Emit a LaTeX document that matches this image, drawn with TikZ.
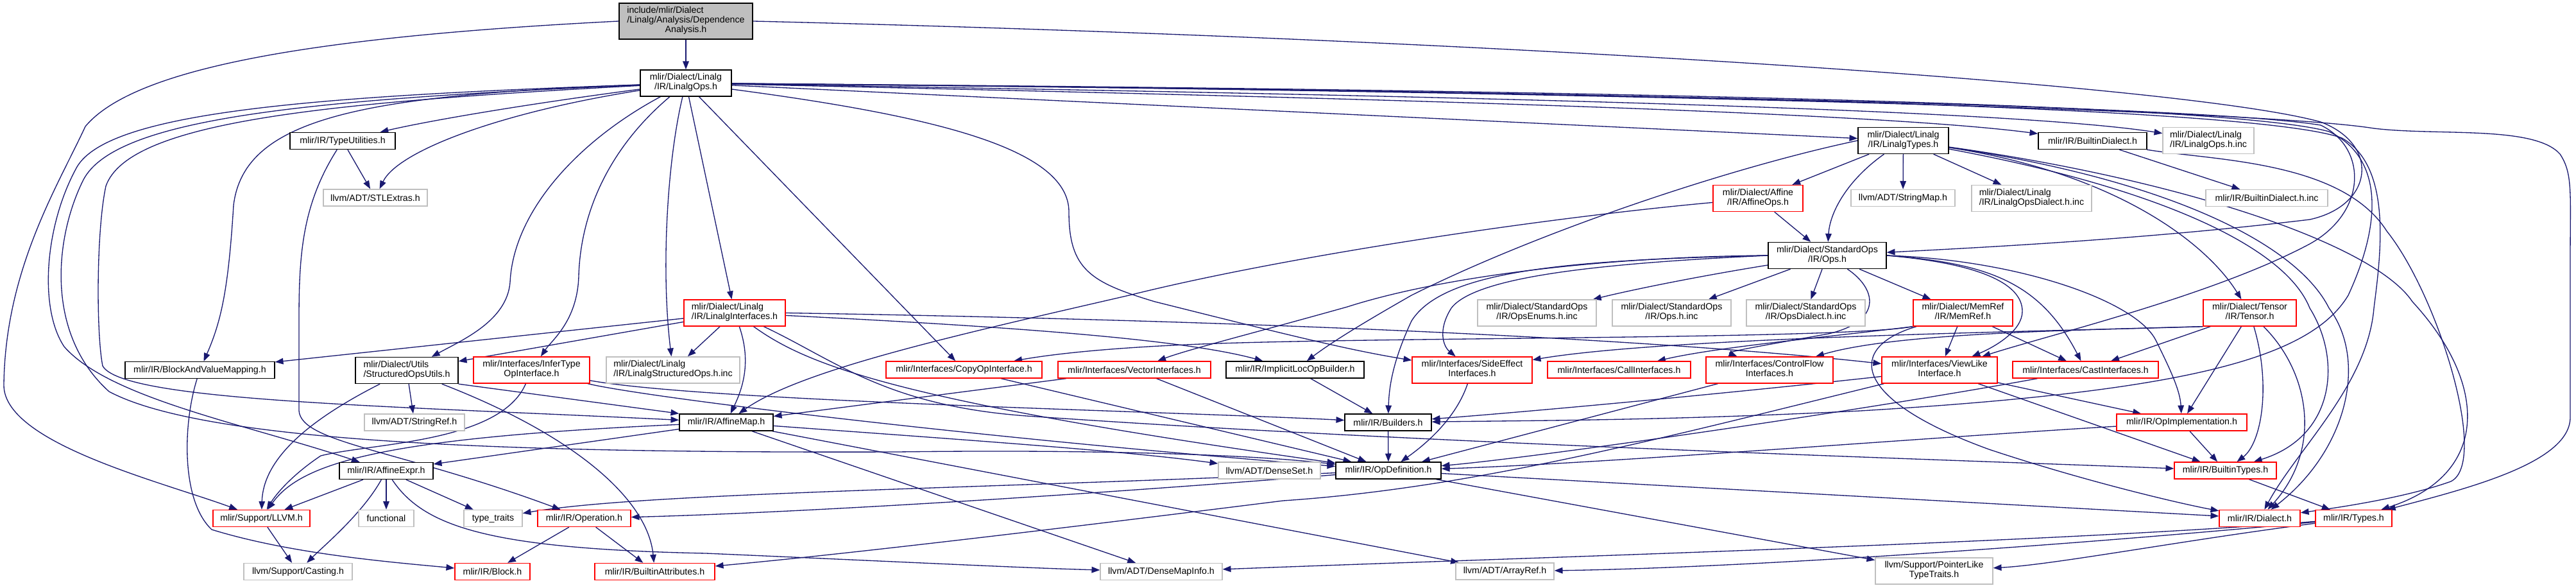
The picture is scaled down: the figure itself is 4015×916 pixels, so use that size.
\documentclass[tikz,border=0pt]{standalone}
\usepackage{fontspec}
\setmainfont{Liberation Sans}
\usetikzlibrary{arrows.meta}
\definecolor{edgec}{HTML}{191970}
\definecolor{dred}{HTML}{FF0000}
\definecolor{dgray}{HTML}{BFBFBF}
\definecolor{topgray}{HTML}{BFBFBF}
\pgfdeclarelayer{edgelayer}
\pgfsetlayers{edgelayer,main}
\newcommand\twoln[2]{\begin{tabular}{@{}l@{}}#1\\\multicolumn{1}{@{}c@{}}{#2}\end{tabular}}
\newcommand\threeln[3]{\begin{tabular}{@{}l@{}}#1\\#2\\\multicolumn{1}{@{}c@{}}{#3}\end{tabular}}
\newcommand\mknode[7]{\node[#6,minimum width=#4*0.25pt,minimum height=#5*0.25pt] (#1) at (#2,#3) {#7};}
\tikzset{
  box/.style={draw, fill=white, line width=0.35pt, inner sep=0pt, text=black,
    font=\fontsize{3.55pt}{3.75pt}\selectfont},
  nb/.style={box, draw=black},
  nr/.style={box, draw=dred},
  ng/.style={box, draw=dgray},
  ntop/.style={box, draw=black, fill=topgray},
  ed/.style={draw=edgec, line width=0.33pt, -{Triangle[length=3.2pt,width=2.4pt]}}
}
\begin{document}
\begin{tikzpicture}[x=0.25pt,y=-0.25pt]
\useasboundingbox (0,0) rectangle (4015,916);
% ---------- nodes ----------
\mknode{T}{1069}{33}{208}{56}{ntop}{\threeln{include/mlir/Dialect}{/Linalg/Analysis/Dependence}{Analysis.h}}
\mknode{LO}{1069}{129.5}{142}{41}{nb}{\twoln{mlir/Dialect/Linalg}{/IR/LinalgOps.h}}
\mknode{TU}{534}{219.5}{164}{26}{nb}{mlir/IR/TypeUtilities.h}
\mknode{STL}{585}{308}{162}{26}{ng}{llvm/ADT/STLExtras.h}
\mknode{LT}{2966.5}{219}{141}{41}{nb}{\twoln{mlir/Dialect/Linalg}{/IR/LinalgTypes.h}}
\mknode{AO}{2740}{309}{140}{41}{nr}{\twoln{mlir/Dialect/Affine}{/IR/AffineOps.h}}
\mknode{SM}{2966}{308.5}{162}{26}{ng}{llvm/ADT/StringMap.h}
\mknode{LODinc}{3166.5}{309}{187}{41}{ng}{\twoln{mlir/Dialect/Linalg}{/IR/LinalgOpsDialect.h.inc}}
\mknode{BD}{3261.5}{219.5}{169}{26}{nb}{mlir/IR/BuiltinDialect.h}
\mknode{LOinc}{3442}{219}{142}{41}{ng}{\twoln{mlir/Dialect/Linalg}{/IR/LinalgOps.h.inc}}
\mknode{BDinc}{3533}{308.5}{190}{26}{ng}{mlir/IR/BuiltinDialect.h.inc}
\mknode{SO}{2848}{398}{184}{41}{nb}{\twoln{mlir/Dialect/StandardOps}{/IR/Ops.h}}
\mknode{LI}{1145}{487.5}{158}{41}{nr}{\twoln{mlir/Dialect/Linalg}{/IR/LinalgInterfaces.h}}
\mknode{OE}{2395.5}{487.5}{185}{41}{ng}{\twoln{mlir/Dialect/StandardOps}{/IR/OpsEnums.h.inc}}
\mknode{OI}{2605.5}{487.5}{185}{41}{ng}{\twoln{mlir/Dialect/StandardOps}{/IR/Ops.h.inc}}
\mknode{OD}{2814.5}{487.5}{185}{41}{ng}{\twoln{mlir/Dialect/StandardOps}{/IR/OpsDialect.h.inc}}
\mknode{MR}{3059.5}{487.5}{155}{41}{nr}{\twoln{mlir/Dialect/MemRef}{/IR/MemRef.h}}
\mknode{TS}{3506.5}{487.5}{145}{41}{nr}{\twoln{mlir/Dialect/Tensor}{/IR/Tensor.h}}
\mknode{BVM}{311.5}{576.5}{233}{26}{nb}{mlir/IR/BlockAndValueMapping.h}
\mknode{SOU}{634}{577}{160}{41}{nb}{\twoln{mlir/Dialect/Utils}{/StructuredOpsUtils.h}}
\mknode{ITI}{828.5}{576.5}{181}{41}{nr}{\twoln{mlir/Interfaces/InferType}{OpInterface.h}}
\mknode{LSOinc}{1049}{576.5}{208}{41}{ng}{\twoln{mlir/Dialect/Linalg}{/IR/LinalgStructuredOps.h.inc}}
\mknode{COI}{1502.5}{576}{243}{26}{nr}{mlir/Interfaces/CopyOpInterface.h}
\mknode{VI}{1768}{576}{238}{26}{nr}{mlir/Interfaces/VectorInterfaces.h}
\mknode{ILOB}{2018.5}{576}{215}{26}{nb}{mlir/IR/ImplicitLocOpBuilder.h}
\mknode{SEI}{2294.5}{576.5}{187}{41}{nr}{\twoln{mlir/Interfaces/SideEffect}{Interfaces.h}}
\mknode{CI}{2523.5}{576}{223}{26}{nr}{mlir/Interfaces/CallInterfaces.h}
\mknode{CFI}{2758}{576.5}{198}{41}{nr}{\twoln{mlir/Interfaces/ControlFlow}{Interfaces.h}}
\mknode{VLI}{3023}{576.5}{180}{41}{nr}{\twoln{mlir/Interfaces/ViewLike}{Interface.h}}
\mknode{CAI}{3250.5}{576}{227}{26}{nr}{mlir/Interfaces/CastInterfaces.h}
\mknode{SR}{646}{658}{156}{26}{ng}{llvm/ADT/StringRef.h}
\mknode{AM}{1132}{658}{146}{26}{nb}{mlir/IR/AffineMap.h}
\mknode{BLD}{2163.5}{658}{135}{26}{nb}{mlir/IR/Builders.h}
\mknode{OPI}{3400.5}{658}{203}{26}{nr}{mlir/IR/OpImplementation.h}
\mknode{AE}{602}{733.5}{146}{26}{nb}{mlir/IR/AffineExpr.h}
\mknode{DS}{1978.5}{733}{159}{26}{ng}{llvm/ADT/DenseSet.h}
\mknode{OPD}{2164}{733}{164}{26}{nb}{mlir/IR/OpDefinition.h}
\mknode{BT}{3468.5}{733}{159}{26}{nr}{mlir/IR/BuiltinTypes.h}
\mknode{LLVM}{407.5}{807.5}{151}{26}{nr}{mlir/Support/LLVM.h}
\mknode{FUN}{602}{807.5}{86}{26}{ng}{functional}
\mknode{TT}{768.5}{807.5}{91}{26}{ng}{type\_traits}
\mknode{OP}{910.5}{807.5}{145}{26}{nr}{mlir/IR/Operation.h}
\mknode{DI}{3522}{807.5}{126}{26}{nr}{mlir/IR/Dialect.h}
\mknode{TY}{3668.5}{807.5}{119}{26}{nr}{mlir/IR/Types.h}
\mknode{CAS}{464.5}{890.5}{169}{26}{ng}{llvm/Support/Casting.h}
\mknode{BLK}{767.5}{890.5}{117}{26}{nr}{mlir/IR/Block.h}
\mknode{BA}{1020.5}{890.5}{187}{26}{nr}{mlir/IR/BuiltinAttributes.h}
\mknode{DMI}{1810}{890.5}{190}{26}{ng}{llvm/ADT/DenseMapInfo.h}
\mknode{AR}{2345.5}{890}{153}{26}{ng}{llvm/ADT/ArrayRef.h}
\mknode{PLT}{3014.5}{889.5}{183}{41}{ng}{\twoln{llvm/Support/PointerLike}{TypeTraits.h}}
% ---------- edges ----------
\begin{pgfonlayer}{edgelayer}
\fill[white] (0,0) rectangle (4015,916);
% top node
\draw[ed] (T) -- (LO);
\draw[ed] (T.west) .. controls (491,57) and (210,105) .. (133,197) .. controls (90,290) and (8,420) .. (6,600) .. controls (6,690) and (250,750) .. (LLVM);
\draw[ed] (T.east) .. controls (2300,60) and (3400,130) .. (3617,190) .. controls (3710,225) and (3700,320) .. (3600,342) .. controls (3350,372) and (3100,385) .. (SO);
% LinalgOps.h
\draw[ed] (LO) .. controls (800,165) and (660,190) .. (TU);
\draw[ed] (LO) .. controls (780,175) and (620,235) .. (STL);
\draw[ed] (LO) .. controls (560,148) and (380,185) .. (364,320) .. controls (356,450) and (345,500) .. (BVM);
\draw[ed] (LO) .. controls (900,220) and (800,330) .. (795,440) .. controls (790,500) and (720,530) .. (SOU);
\draw[ed] (LO) .. controls (950,230) and (905,330) .. (902,430) .. controls (900,500) and (860,530) .. (ITI);
\draw[ed] (LO) .. controls (1040,250) and (1030,420) .. (LSOinc);
\draw[ed] (LO) -- (LI);
\draw[ed] (LO) -- (COI);
\draw[ed] (LO) .. controls (500,160) and (200,190) .. (165,290) .. controls (150,360) and (150,520) .. (160,570) .. controls (190,625) and (600,632) .. (AM);
\draw[ed] (LO) .. controls (480,150) and (170,175) .. (120,260) .. controls (70,350) and (60,480) .. (100,540) .. controls (170,620) and (380,660) .. (AE);
\draw[ed] (LO) .. controls (470,155) and (180,185) .. (130,280) .. controls (85,370) and (70,520) .. (170,610) .. controls (320,690) and (800,706) .. (1400,704) .. controls (1700,700) and (1950,708) .. (OPD);
\draw[ed] (LO) .. controls (1450,180) and (1666,230) .. (1666,330) .. controls (1666,420) and (1700,440) .. (1800,470) .. controls (2000,520) and (2100,545) .. (SEI);
\draw[ed] (LO) -- (LT);
\draw[ed] (LO) .. controls (2000,150) and (2900,172) .. (BD);
\draw[ed] (LO) .. controls (2000,145) and (3100,165) .. (LOinc);
\draw[ed] (LO) .. controls (2200,140) and (3400,160) .. (3617,195) .. controls (3690,230) and (3690,330) .. (3600,380) .. controls (3450,460) and (3200,520) .. (VLI);
\draw[ed] (LO) .. controls (2200,138) and (3450,155) .. (3630,205) .. controls (3705,240) and (3720,330) .. (3660,460) .. controls (3600,560) and (3400,610) .. (2900,640) .. controls (2600,655) and (2400,655) .. (BLD);
\draw[ed] (LO) .. controls (2300,140) and (3500,160) .. (3650,215) .. controls (3730,260) and (3710,400) .. (3700,480) .. controls (3690,600) and (3580,700) .. (DI);
\draw[ed] (LO) .. controls (2300,140) and (3500,168) .. (3700,200) .. controls (3800,212) and (3950,195) .. (3990,240) .. controls (4010,270) and (4006,300) .. (4006,400) -- (4006,650) .. controls (4006,720) and (3850,760) .. (TY);
% TypeUtilities
\draw[ed] (TU) -- (STL);
\draw[ed] (TU) .. controls (470,320) and (466,400) .. (466,500) -- (466,640) .. controls (470,690) and (620,700) .. (OP);
% LinalgTypes
\draw[ed] (LT) -- (AO);
\draw[ed] (LT) .. controls (2880,280) and (2852,330) .. (SO);
\draw[ed] (LT) -- (SM);
\draw[ed] (LT) -- (LODinc);
\draw[ed] (LT.west) .. controls (2700,260) and (2400,360) .. (2200,460) .. controls (2130,500) and (2080,530) .. (ILOB);
\draw[ed] (LT) .. controls (3300,270) and (3440,380) .. (TS);
\draw[ed] (LT) .. controls (3350,290) and (3560,380) .. (3600,480) .. controls (3650,560) and (3640,680) .. (BT);
\draw[ed] (LT) .. controls (3380,280) and (3580,380) .. (3630,480) .. controls (3690,560) and (3660,700) .. (DI);
\draw[ed] (LT) .. controls (3400,280) and (3700,380) .. (3760,470) .. controls (3880,600) and (3880,740) .. (TY);
% BuiltinDialect
\draw[ed] (BD) -- (BDinc);
\draw[ed] (BD) .. controls (3450,250) and (3650,250) .. (3720,360) .. controls (3800,460) and (3880,720) .. (3820,750) .. controls (3750,775) and (3650,790) .. (DI);
% AffineOps
\draw[ed] (AO) -- (SO);
\draw[ed] (AO) .. controls (2400,340) and (2000,400) .. (1760,460) .. controls (1500,520) and (1250,575) .. (AM);
% StandardOps Ops.h
\draw[ed] (SO) .. controls (2650,430) and (2550,450) .. (OE);
\draw[ed] (SO) -- (OI);
\draw[ed] (SO) -- (OD);
\draw[ed] (SO) -- (MR);
\draw[ed] (SO.west) .. controls (2500,410) and (2300,430) .. (2262,480) .. controls (2240,515) and (2250,540) .. (SEI);
\draw[ed] (SO.west) .. controls (2450,405) and (2250,420) .. (2200,500) .. controls (2172,560) and (2165,600) .. (BLD);
\draw[ed] (SO.west) .. controls (2500,400) and (2250,430) .. (2100,478) .. controls (1950,520) and (1850,545) .. (VI);
\draw[ed] (SO) .. controls (2925,450) and (2935,500) .. (2850,520) .. controls (2750,538) and (2690,548) .. (CFI);
\draw[ed] (SO.east) .. controls (3080,410) and (3152,440) .. (3152,485) .. controls (3152,515) and (3110,540) .. (VLI);
\draw[ed] (SO.east) .. controls (3100,410) and (3180,440) .. (CAI);
\draw[ed] (SO.east) .. controls (3150,405) and (3330,470) .. (3360,530) .. controls (3385,580) and (3398,610) .. (OPI);
% LinalgInterfaces
\draw[ed] (LI) -- (BVM);
\draw[ed] (LI) -- (SOU);
\draw[ed] (LI) -- (LSOinc);
\draw[ed] (LI) .. controls (1170,560) and (1160,600) .. (AM);
\draw[ed] (LI.east) .. controls (2000,500) and (2600,530) .. (VLI);
\draw[ed] (LI) .. controls (1600,510) and (1850,530) .. (ILOB);
\draw[ed] (LI) .. controls (1260,570) and (1400,625) .. (OPD);
\draw[ed] (LI) .. controls (1300,560) and (1380,632) .. (1600,648) .. controls (2200,690) and (3000,715) .. (BT);
% MemRef
\draw[ed] (MR.south west) .. controls (2880,528) and (2200,525) .. (1900,535) .. controls (1750,540) and (1650,550) .. (COI);
\draw[ed] (MR.south west) .. controls (2850,525) and (2680,540) .. (CI);
\draw[ed] (MR) -- (VLI);
\draw[ed] (MR) -- (CAI);
\draw[ed] (MR) .. controls (2880,540) and (2880,620) .. (3100,700) .. controls (3250,750) and (3400,785) .. (DI);
% Tensor
\draw[ed] (TS.south west) .. controls (3200,515) and (2950,520) .. (CFI);
\draw[ed] (TS.south west) .. controls (3200,516) and (2600,525) .. (SEI);
\draw[ed] (TS) -- (CAI);
\draw[ed] (TS) -- (OPI);
\draw[ed] (TS) .. controls (3540,600) and (3525,690) .. (BT);
\draw[ed] (TS) .. controls (3600,580) and (3620,700) .. (DI);
% middle rows
\draw[ed] (BVM) .. controls (285,660) and (282,780) .. (330,825) .. controls (450,862) and (600,875) .. (BLK);
\draw[ed] (SOU) -- (SR);
\draw[ed] (SOU) .. controls (470,660) and (410,720) .. (LLVM);
\draw[ed] (SOU) .. controls (900,680) and (1010,780) .. (BA);
\draw[ed] (SOU.south east) -- (AM.north west);
\draw[ed] (ITI) .. controls (780,690) and (580,690) .. (500,710) .. controls (455,740) and (430,770) .. (LLVM);
\draw[ed] (ITI) .. controls (1100,625) and (1800,640) .. (BLD);
\draw[ed] (ITI) .. controls (1000,618) and (1500,680) .. (OPD);
\draw[ed] (COI) -- (OPD);
\draw[ed] (VI) -- (AM);
\draw[ed] (VI) -- (OPD);
\draw[ed] (ILOB) -- (BLD);
\draw[ed] (SEI) .. controls (2270,650) and (2225,690) .. (OPD);
\draw[ed] (CFI) -- (OPD);
\draw[ed] (VLI) .. controls (2700,612) and (2400,640) .. (BLD);
\draw[ed] (VLI) -- (OPI);
\draw[ed] (VLI) -- (BT);
\draw[ed] (VLI) .. controls (2600,680) and (2300,760) .. (2000,780) .. controls (1600,830) and (1300,865) .. (BA);
\draw[ed] (CAI) .. controls (2900,640) and (2400,712) .. (OPD);
\draw[ed] (AM) -- (AE);
\draw[ed] (AM) .. controls (600,682) and (470,720) .. (LLVM);
\draw[ed] (AM) .. controls (1500,685) and (1750,702) .. (DS);
\draw[ed] (AM) -- (DMI);
\draw[ed] (AM) -- (AR);
\draw[ed] (BLD) -- (OPD);
\draw[ed] (OPI) .. controls (3000,682) and (2500,722) .. (OPD);
\draw[ed] (OPI) -- (BT);
\draw[ed] (AE) -- (LLVM);
\draw[ed] (AE) -- (FUN);
\draw[ed] (AE) -- (TT);
\draw[ed] (AE) .. controls (565,800) and (505,850) .. (CAS);
\draw[ed] (AE) .. controls (660,820) and (760,855) .. (1100,862) .. controls (1400,875) and (1600,885) .. (DMI);
\draw[ed] (OPD) .. controls (1600,778) and (1200,800) .. (OP);
\draw[ed] (OPD) .. controls (1500,762) and (1000,768) .. (TT);
\draw[ed] (OPD) -- (DI);
\draw[ed] (OPD) -- (PLT);
\draw[ed] (BT) -- (TY);
\draw[ed] (LLVM) -- (CAS);
\draw[ed] (OP) -- (BLK);
\draw[ed] (OP) -- (BA);
\draw[ed] (TY) .. controls (3200,845) and (2400,868) .. (DMI);
\draw[ed] (TY) .. controls (3200,852) and (2700,885) .. (AR);
\draw[ed] (TY) .. controls (3400,842) and (3200,880) .. (PLT);
\end{pgfonlayer}
\end{tikzpicture}
\end{document}
